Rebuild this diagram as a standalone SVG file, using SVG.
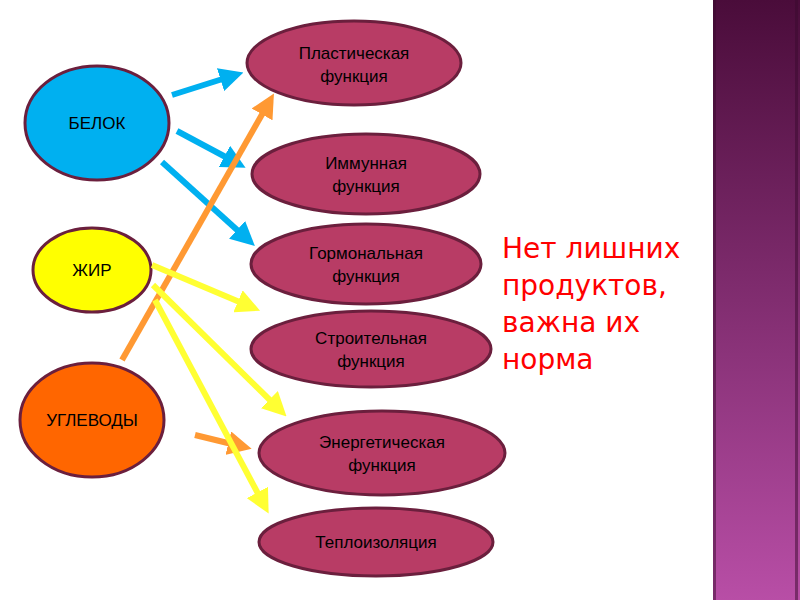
<svg xmlns="http://www.w3.org/2000/svg" width="800" height="600" viewBox="0 0 800 600">
<style>
.t{font-family:"Liberation Sans",Arial,sans-serif;font-size:17px;fill:#000;text-anchor:middle}
.f{fill:#b83c65;stroke:#6b1f3d;stroke-width:3}
.b{stroke:#00b0f0;stroke-width:6;fill:none;marker-end:url(#mb)}
.o{stroke:#ff9933;stroke-width:6;fill:none;marker-end:url(#mo)}
.y{stroke:#ffff33;stroke-width:6;fill:none;marker-end:url(#my)}
</style>
<defs>
<linearGradient id="g" x1="0" y1="0" x2="0" y2="1"><stop offset="0" stop-color="#4a0c3a"/><stop offset="1" stop-color="#b84ea6"/></linearGradient>
<marker id="mb" markerWidth="4" markerHeight="4" refX="2" refY="2" orient="auto"><path d="M0,0L4,2L0,4z" fill="#00b0f0"/></marker>
<marker id="mo" markerWidth="4" markerHeight="4" refX="2" refY="2" orient="auto"><path d="M0,0L4,2L0,4z" fill="#ff9933"/></marker>
<marker id="my" markerWidth="4" markerHeight="4" refX="2" refY="2" orient="auto"><path d="M0,0L4,2L0,4z" fill="#ffff33"/></marker>
</defs>
<rect width="800" height="600" fill="#fff"/>
<rect x="713" y="0" width="87" height="600" fill="url(#g)"/>
<rect x="713" y="0" width="3" height="600" fill="#3a0a2e" opacity="0.5"/>
<rect x="795" y="0" width="3" height="600" fill="#3a0a2e" opacity="0.5"/>
<g id="n_belok"><ellipse cx="97" cy="123" rx="72" ry="57" fill="#00b0f0" stroke="#6b1f3d" stroke-width="3"/><text class="t" x="97" y="129">БЕЛОК</text></g>
<g id="n_zhir"><ellipse cx="92" cy="270" rx="59" ry="42" fill="#ffff00" stroke="#6b1f3d" stroke-width="3"/><text class="t" x="92" y="276">ЖИР</text></g>
<g id="n_ugl"><ellipse cx="92" cy="420" rx="72" ry="57" fill="#ff6600" stroke="#6b1f3d" stroke-width="3"/><text class="t" x="92" y="426">УГЛЕВОДЫ</text></g>
<g id="n_plast"><ellipse class="f" cx="354" cy="63" rx="107" ry="42"/><text class="t" x="354" y="59">Пластическая</text><text class="t" x="354" y="82">функция</text></g>
<g id="n_imm"><ellipse class="f" cx="366" cy="174" rx="114" ry="40"/><text class="t" x="366" y="169">Иммунная</text><text class="t" x="366" y="192">функция</text></g>
<g id="n_gorm"><ellipse class="f" cx="366" cy="264" rx="115" ry="40"/><text class="t" x="366" y="259">Гормональная</text><text class="t" x="366" y="282">функция</text></g>
<g id="n_str"><ellipse class="f" cx="371" cy="349" rx="120" ry="38"/><text class="t" x="371" y="344">Строительная</text><text class="t" x="371" y="367">функция</text></g>
<g id="n_en"><ellipse class="f" cx="382" cy="453" rx="123" ry="42"/><text class="t" x="382" y="448">Энергетическая</text><text class="t" x="382" y="471">функция</text></g>
<g id="n_tepl"><ellipse class="f" cx="376" cy="542" rx="117" ry="34"/><text class="t" x="376" y="548">Теплоизоляция</text></g>
<g id="connectors">
<line class="b" x1="172" y1="95" x2="232" y2="76"/>
<line class="b" x1="177" y1="131" x2="235" y2="162"/>
<line class="b" x1="162" y1="162" x2="246" y2="238"/>
<line class="o" x1="122" y1="360" x2="268" y2="104"/>
<line class="o" x1="195" y1="435" x2="240" y2="446"/>
<line class="y" x1="152" y1="265" x2="249" y2="306"/>
<line class="y" x1="153" y1="285" x2="278" y2="408"/>
<line class="y" x1="155" y1="300" x2="263" y2="503"/>
</g>
<g id="note" font-family="'DejaVu Sans',sans-serif" font-size="28" fill="#ff0000">
<text x="502" y="258">Нет лишних</text><text x="502" y="295">продуктов,</text><text x="502" y="332">важна их</text><text x="502" y="369">норма</text>
</g>
</svg>
